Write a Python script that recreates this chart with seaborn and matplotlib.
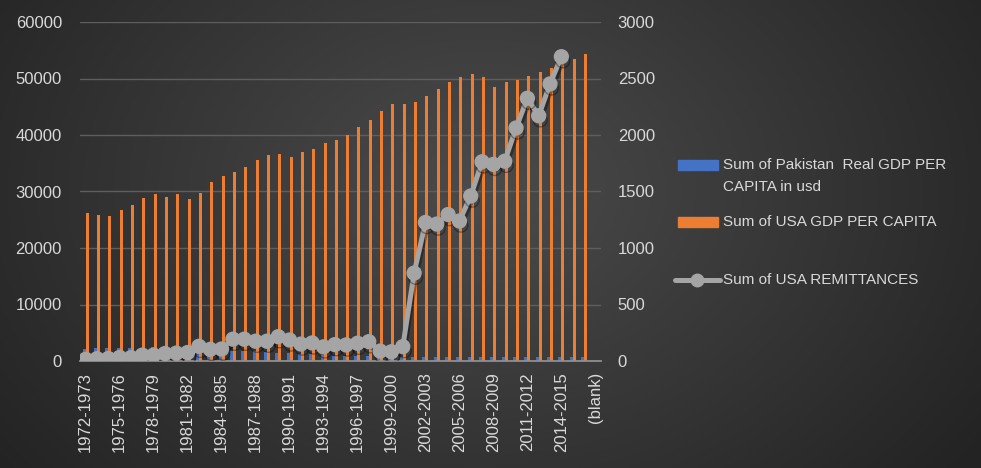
import numpy as np
import pandas as pd
import matplotlib
matplotlib.use("Agg")
import matplotlib.pyplot as plt
import matplotlib.patheffects as pe
from matplotlib.patches import Rectangle
from matplotlib.lines import Line2D
import seaborn as sns

sns.set_style("dark")
plt.rcParams["font.family"] = ["Liberation Sans", "DejaVu Sans"]

# categories: fiscal years 1972-1973 .. 2016-2017 plus the pivot "(blank)" row
periods = [f"{y}-{y + 1}" for y in range(1972, 2017)] + ["(blank)"]

pakistan_gdp = [2070, 2250, 2250, 2250, 2250, 2070, 2420, 2300, 2200, 2100,
                2000, 1950, 1850, 1710, 1710, 1710, 1540, 1420, 1420, 1240,
                1240, 1010, 890, 880, 860, 850, 830, 800, 780, 760,
                760, 740, 760, 740, 720, 740, 720, 700, 700, 720,
                700, 700, 720, 700, 700, np.nan]

usa_gdp = [26250, 25840, 25660, 26720, 27600, 28850, 29560, 29030, 29560, 28670,
           29730, 31680, 32740, 33450, 34340, 35580, 36460, 36640, 36100, 36990,
           37520, 38580, 39120, 40000, 41420, 42650, 44250, 45490, 45490, 45840,
           46900, 48140, 49380, 50270, 50800, 50270, 48500, 49380, 49730, 50440,
           51150, 51860, 52600, 53450, 54340, np.nan]

usa_remittances = [15, 20, 22, 32, 30, 52, 52, 66, 70, 75,
                   130, 103, 106, 193, 193, 175, 175, 215, 186, 150,
                   160, 125, 145, 142, 157, 171, 88, 82, 127, 778,
                   1226, 1212, 1296, 1239, 1460, 1763, 1740, 1768, 2062, 2325,
                   2170, 2452, 2693, np.nan, np.nan, np.nan]

labels = ["Sum of Pakistan  Real GDP PER CAPITA in usd",
          "Sum of USA GDP PER CAPITA",
          "Sum of USA REMITTANCES"]

BLUE, ORANGE, GRAY = "#4472c4", "#ed7d31", "#a5a5a5"
TXT = "#d9d9d9"

bars = pd.DataFrame({
    "period": periods * 2,
    "value": pakistan_gdp + usa_gdp,
    "series": [labels[0]] * len(periods) + [labels[1]] * len(periods),
})
line = pd.DataFrame({"pos": np.arange(len(periods)), "value": usa_remittances}).dropna()

W, H = 981, 468
fig = plt.figure(figsize=(W / 100, H / 100), dpi=100)

# dark radial background like the office theme
bg = fig.add_axes([0, 0, 1, 1], zorder=-10)
yy, xx = np.mgrid[0:H, 0:W]
r = np.hypot((xx - 480) / 560, (yy - 190) / 420)
shade = np.clip(0.295 - 0.145 * r, 0.14, 0.3)
bg.imshow(np.dstack([shade] * 3), extent=[0, 1, 0, 1], aspect="auto", origin="upper")
bg.set_axis_off()

ax = fig.add_axes([80 / W, 1 - 361 / H, 521 / W, 339 / H])
ax.patch.set_alpha(0)

sns.barplot(data=bars, x="period", y="value", hue="series", order=periods,
            hue_order=labels[:2], palette=[BLUE, ORANGE], saturation=1,
            width=0.53, errorbar=None, legend=False, linewidth=0, ax=ax)

ax2 = ax.twinx()
sns.lineplot(data=line, x="pos", y="value", ax=ax2, color=GRAY, linewidth=3.6,
             marker="o", markersize=10, markeredgecolor=GRAY, markeredgewidth=1,
             path_effects=[pe.SimpleLineShadow(offset=(1, -3), shadow_color="black", alpha=0.35),
                           pe.Normal()])

ax.set_xlim(-0.5, len(periods) - 0.5)
ax.set_ylim(0, 60000)
ax.set_yticks(range(0, 60001, 10000))
ax2.set_ylim(0, 3000)
ax2.set_yticks(range(0, 3001, 500))

shown = list(range(0, len(periods), 3))
ax.set_xticks(shown)
ax.set_xticklabels([periods[i] for i in shown], rotation=90)

for a in (ax, ax2):
    a.set_xlabel("")
    a.set_ylabel("")
    for s in a.spines.values():
        s.set_visible(False)
ax.spines["bottom"].set_visible(True)
ax.spines["bottom"].set_color("#8f8f8f")
ax.spines["bottom"].set_linewidth(1.3)

ax.tick_params(axis="x", length=0, pad=8, labelsize=12, labelcolor=TXT)
ax.tick_params(axis="y", length=0, pad=13, labelsize=12, labelcolor=TXT)
ax2.tick_params(axis="y", length=0, pad=12, labelsize=12, labelcolor=TXT)

ax.yaxis.grid(True, color="#5e5e5e", linewidth=1)
ax.xaxis.grid(False)
ax2.grid(False)
ax.set_axisbelow(True)


# legend drawn by hand so the marker sits on the first text line like Excel
def fx(px):
    return px / W


def fy(py):
    return 1 - py / H


fig.add_artist(Rectangle((fx(678), fy(170)), fx(40), 10 / H, color=BLUE, transform=fig.transFigure))
fig.text(fx(723), fy(165), "Sum of Pakistan  Real GDP PER", color=TXT, fontsize=11, va="center")
fig.text(fx(723), fy(187), "CAPITA in usd", color=TXT, fontsize=11, va="center")
fig.add_artist(Rectangle((fx(678), fy(227)), fx(40), 10 / H, color=ORANGE, transform=fig.transFigure))
fig.text(fx(723), fy(222), labels[1], color=TXT, fontsize=11, va="center")
fig.add_artist(Line2D([fx(675), fx(720)], [fy(280), fy(280)], color=GRAY, linewidth=3.6,
                      transform=fig.transFigure))
fig.add_artist(Line2D([fx(697)], [fy(280)], color=GRAY, marker="o", markersize=9,
                      transform=fig.transFigure))
fig.text(fx(723), fy(280), labels[2], color=TXT, fontsize=11, va="center")

fig.savefig("out.png", dpi=100)
